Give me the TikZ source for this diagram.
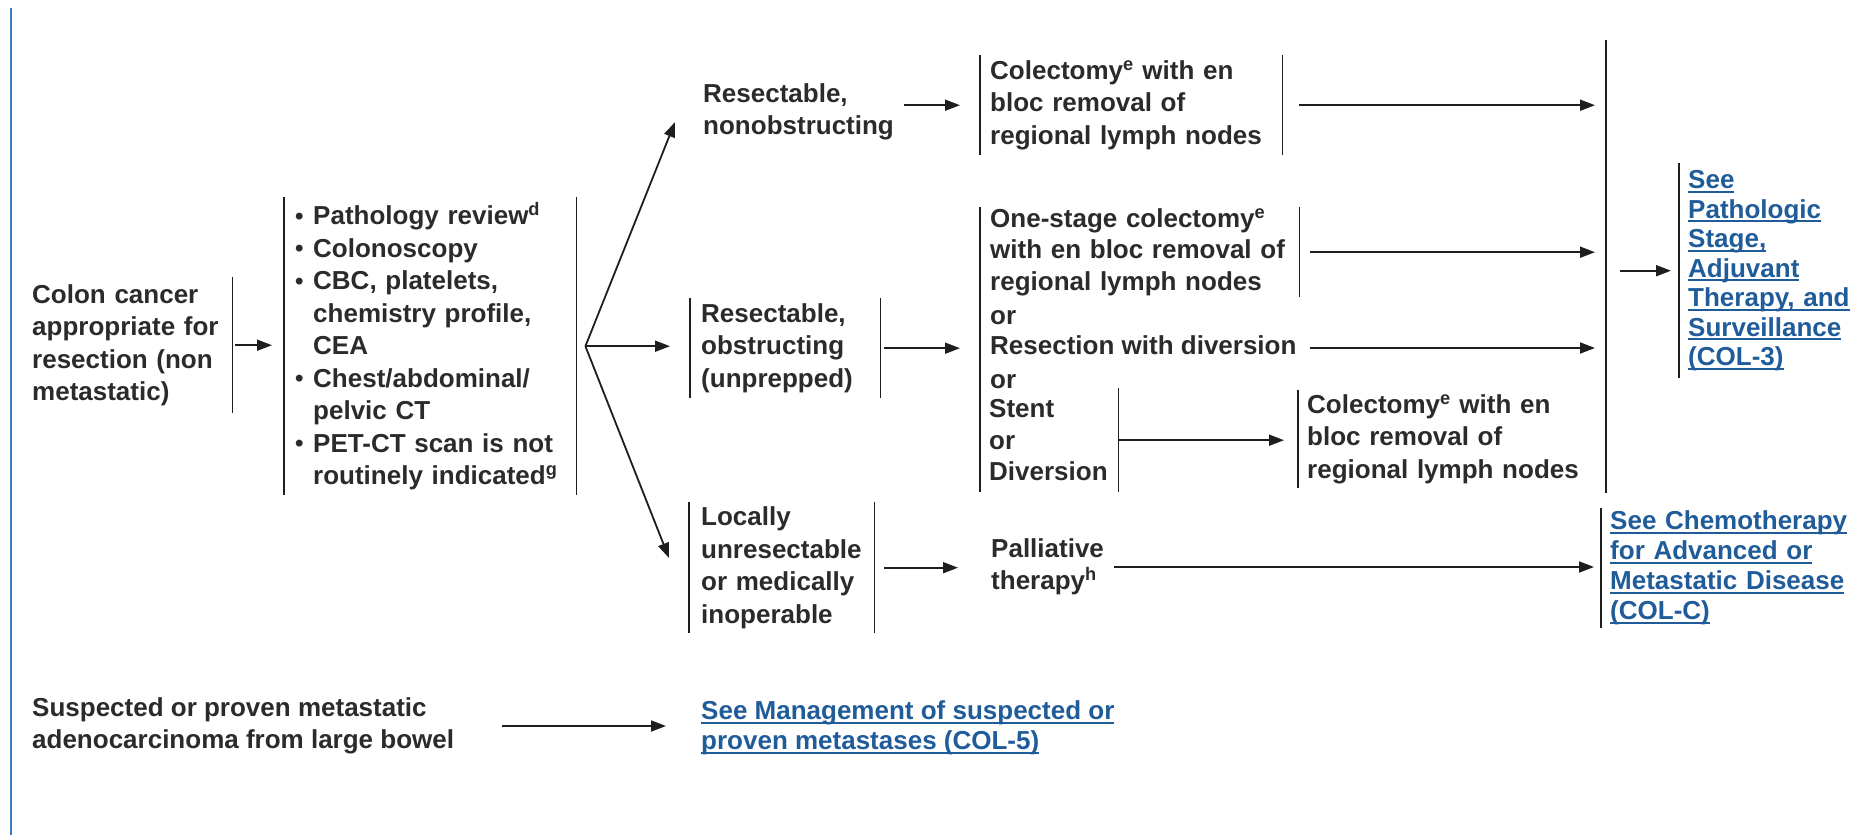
\documentclass[tikz,border=0pt]{standalone}
\usepackage{fontspec}
\setmainfont{Liberation Sans}
\usetikzlibrary{arrows.meta}

\definecolor{ink}{HTML}{2B2B2B}
\definecolor{wire}{HTML}{1E1E1E}
\definecolor{linkblue}{HTML}{1F5C99}
\definecolor{edgeblue}{HTML}{3A7CC0}

\newsavebox{\lnkbox}
\newcommand{\lnk}[1]{\leavevmode\sbox{\lnkbox}{#1}\rlap{\rule[-4pt]{\wd\lnkbox}{1.6pt}}\usebox{\lnkbox}}
\newcommand{\bul}{\makebox[19pt][l]{\hspace{1pt}\raisebox{0.5pt}{\fontsize{24}{24}\selectfont\textbullet}}}
\newcommand{\ind}{\hspace*{19pt}}
\newcommand{\optfont}{\fontsize{26}{31.3}\selectfont\bfseries}

\tikzset{
  txt/.style={font=\fontsize{26}{32.5}\selectfont\bfseries, text=ink, align=left, inner ysep=0pt, inner xsep=10pt},
  link/.style={txt, text=linkblue, font=\fontsize{26}{30}\selectfont\bfseries},
  one/.style={text height=19pt, text depth=6pt},
  bar/.style={draw=wire, line width=1.6pt},
  lbar/.style={append after command={(\tikzlastnode.north west) edge[bar] (\tikzlastnode.south west)}},
  rbar/.style={append after command={(\tikzlastnode.north east) edge[bar] (\tikzlastnode.south east)}},
  go/.style={draw=wire, line width=1.8pt, -{Triangle[length=15pt,width=11pt]}}
}

\begin{document}
\begin{tikzpicture}[x=1pt, y=-1pt]
\useasboundingbox (0,0) rectangle (1864,835);
\draw[edgeblue, line width=2pt] (11,8) -- (11,835);

\node[txt, rbar, anchor=north west, inner xsep=8pt, text width=192pt, minimum height=136pt] (colon) at (24,277)
  {Colon cancer\\appropriate for\\resection (non\\metastatic)};
\node[txt, lbar, rbar, anchor=north west, text width=272pt, minimum height=298pt] (workup) at (284,197)
  {\bul Pathology review\textsuperscript{d}\\
   \bul Colonoscopy\\
   \bul CBC, platelets,\\
   \ind chemistry profile,\\
   \ind CEA\\
   \bul Chest/abdominal/\\
   \ind pelvic CT\\
   \bul PET-CT scan is not\\
   \ind routinely indicated\textsuperscript{g}};
\coordinate (fork) at ([xshift=9pt]workup.east);
\coordinate (upTip) at (675,122);
\coordinate (downTip) at (669,558);

\node[txt, anchor=west] (nonobs) at (693,112) {Resectable,\\nonobstructing};
\node[txt, lbar, rbar, anchor=north west, text width=282pt, minimum height=100pt] (colect) at (980,55)
  {Colectomy\textsuperscript{e} with en\\bloc removal of\\regional lymph nodes};

\node[txt, lbar, rbar, anchor=north west, inner xsep=11pt, text width=168pt, minimum height=100pt] (obstr) at (690,298)
  {Resectable,\\obstructing\\(unprepped)};
\node[txt, rbar, anchor=north west, text width=299pt, minimum height=90pt, font=\optfont] (onestage) at (980,207)
  {One-stage colectomy\textsuperscript{e}\\with en bloc removal of\\regional lymph nodes};
\node[txt, one, anchor=west] (or1) at (980,318) {or};
\node[txt, one, anchor=west] (resect) at (980,348) {Resection with diversion};
\node[txt, one, anchor=west] (or2) at (980,382) {or};
\node[txt, rbar, anchor=north west, inner xsep=9pt, text width=120pt, minimum height=104pt, font=\optfont] (stent) at (980,388)
  {Stent\\or\\Diversion};
\draw[bar] (onestage.north west) -- (stent.south west);
\node[txt, lbar, anchor=north west, inner xsep=9pt, text width=288pt, minimum height=98pt] (colect2) at (1298,390)
  {Colectomy\textsuperscript{e} with en\\bloc removal of\\regional lymph nodes};

\coordinate (joinT) at (1606,40);
\coordinate (joinB) at (1606,493);
\draw[bar] (joinT) -- (joinB);

\node[link, lbar, anchor=north west, inner xsep=9pt, text width=170pt, minimum height=215pt, font=\fontsize{26}{29.5}\selectfont\bfseries] (stage) at (1679,163)
  {\lnk{See}\\\lnk{Pathologic}\\\lnk{Stage,}\\\lnk{Adjuvant}\\\lnk{Therapy, and}\\\lnk{Surveillance}\\\lnk{(COL-3)}};

\node[txt, lbar, rbar, anchor=north west, inner xsep=12pt, text width=161pt, minimum height=131pt] (locally) at (689,502)
  {Locally\\unresectable\\or medically\\inoperable};
\node[txt, anchor=west] (palli) at (981,567) {Palliative\\therapy\textsuperscript{h}};
\node[link, lbar, anchor=north west, inner xsep=9pt, text width=245pt, minimum height=120pt] (chemo) at (1601,508)
  {\lnk{See Chemotherapy}\\\lnk{for Advanced or}\\\lnk{Metastatic Disease}\\\lnk{(COL-C)}};

\node[txt, anchor=west] (metas) at (22,726) {Suspected or proven metastatic\\adenocarcinoma from large bowel};
\node[link, anchor=west] (mgmt) at (691,728) {\lnk{See Management of suspected or}\\\lnk{proven metastases (COL-5)}};

\draw[go, shorten <=3pt, shorten >=12pt] (colon.east) -- (colon.east -| workup.west);
\draw[go] (fork) -- (upTip);
\draw[go, shorten >=20pt] (fork) -- (fork -| obstr.west);
\draw[go] (fork) -- (downTip);
\draw[go, shorten >=20pt] (nonobs.east |- colect.west) -- (colect.west);
\draw[go, shorten <=17pt, shorten >=11pt] (colect.east) -- (colect.east -| joinT);
\draw[go, shorten <=4pt, shorten >=20pt] (obstr.east) -- (obstr.east -| onestage.west);
\draw[go, shorten <=11pt, shorten >=11pt] (onestage.east) -- (onestage.east -| joinT);
\draw[go, shorten <=3pt, shorten >=11pt] (resect.east) -- (resect.east -| joinT);
\draw[go, shorten >=14pt] (stent.east) -- (stent.east -| colect2.west);
\draw[go, shorten <=14pt, shorten >=8pt] (stage.west -| joinT) -- (stage.west);
\draw[go, shorten <=10pt, shorten >=23pt] (locally.east) -- (locally.east -| palli.west);
\draw[go, shorten >=7pt] (palli.east) -- (palli.east -| chemo.west);
\draw[go, shorten <=38pt, shorten >=25pt] (metas.east) -- (metas.east -| mgmt.west);
\end{tikzpicture}
\end{document}
